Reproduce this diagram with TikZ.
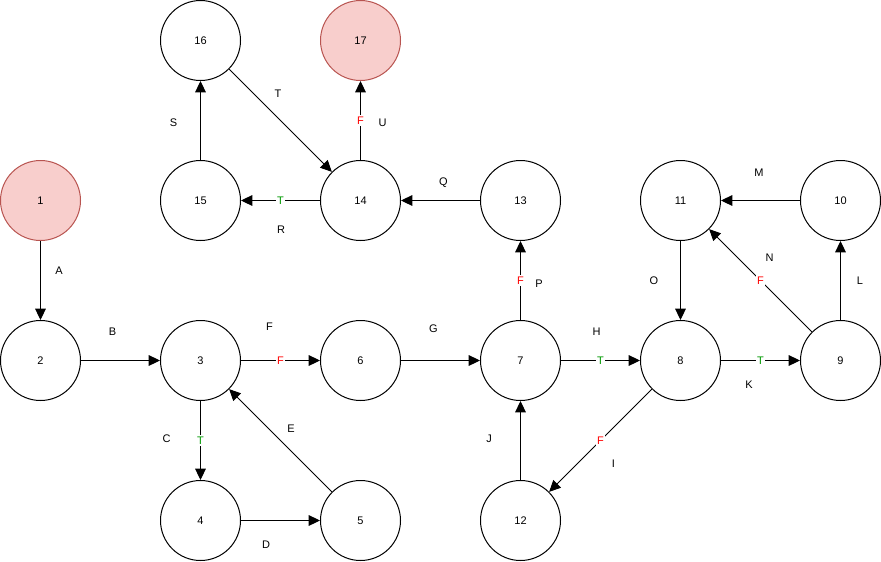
\documentclass[tikz,border=0pt]{standalone}
\usepackage{fontspec}
\setmainfont{Liberation Sans}
\usetikzlibrary{arrows.meta}
\definecolor{pinkfill}{HTML}{F8CECC}
\definecolor{pinkdraw}{HTML}{B85450}
\definecolor{tgreen}{HTML}{009900}
\definecolor{fred}{HTML}{FF0000}
\tikzset{
  state/.style={circle,draw=black,line width=0.75pt,fill=white,minimum size=60pt,inner sep=0pt,font=\fontsize{8.25pt}{10pt}\selectfont},
  endstate/.style={state,fill=pinkfill,draw=pinkdraw},
  edge/.style={line width=0.75pt,-{Triangle[length=8.5pt,width=8pt]}},
  lab/.style={font=\fontsize{8.25pt}{10pt}\selectfont,inner sep=0pt},
  tlab/.style={lab,fill=white,inner sep=1pt,text=tgreen},
  flab/.style={lab,fill=white,inner sep=1pt,text=fred}
}
\begin{document}
\begin{tikzpicture}[x=0.75pt,y=-0.75pt]
\useasboundingbox (0,0) rectangle (881,561);
\node[endstate] (n1) at (40.5,200.5) {1};
\node[state] (n2) at (40.5,360.5) {2};
\node[state] (n3) at (200.5,360.5) {3};
\node[state] (n4) at (200.5,520.5) {4};
\node[state] (n5) at (360.5,520.5) {5};
\node[state] (n6) at (360.5,360.5) {6};
\node[state] (n7) at (520.5,360.5) {7};
\node[state] (n8) at (680.5,360.5) {8};
\node[state] (n9) at (840.5,360.5) {9};
\node[state] (n10) at (840.5,200.5) {10};
\node[state] (n11) at (680.5,200.5) {11};
\node[state] (n12) at (520.5,520.5) {12};
\node[state] (n13) at (520.5,200.5) {13};
\node[state] (n14) at (360.5,200.5) {14};
\node[state] (n15) at (200.5,200.5) {15};
\node[state] (n16) at (200.5,40.5) {16};
\node[endstate] (n17) at (360.5,40.5) {17};

\draw[edge] (n1) -- (n2);
\draw[edge] (n2) -- (n3);
\draw[edge] (n3) -- node[flab] (e36) {F} (n6);
\draw[edge] (n3) -- node[tlab] (e34) {T} (n4);
\draw[edge] (n4) -- (n5);
\draw[edge] (n5) -- (n3);
\draw[edge] (n6) -- (n7);
\draw[edge] (n7) -- node[tlab] (e78) {T} (n8);
\draw[edge] (n8) -- node[tlab] (e89) {T} (n9);
\draw[edge] (n8) -- node[flab] (e812) {F} (n12);
\draw[edge] (n12) -- (n7);
\draw[edge] (n7) -- node[flab] (e713) {F} (n13);
\draw[edge] (n9) -- (n10);
\draw[edge] (n9) -- node[flab] (e911) {F} (n11);
\draw[edge] (n10) -- (n11);
\draw[edge] (n11) -- (n8);
\draw[edge] (n13) -- (n14);
\draw[edge] (n14) -- node[tlab] (e1415) {T} (n15);
\draw[edge] (n15) -- (n16);
\draw[edge] (n16) -- (n14);
\draw[edge] (n14) -- node[flab] (e1417) {F} (n17);

\node[lab] (lA) at (59,270.5) {A};
\node[lab] (lB) at (112.5,331.5) {B};
\node[lab] (lC) at (166.5,438.5) {C};
\node[lab] (lD) at (266,544.5) {D};
\node[lab] (lE) at (291,429) {E};
\node[lab] (lF) at (269.5,327) {F};
\node[lab] (lG) at (433.5,329) {G};
\node[lab] (lH) at (596.5,331.5) {H};
\node[lab] (lI) at (613.5,463.5) {I};
\node[lab] (lJ) at (489,438.5) {J};
\node[lab] (lK) at (749,384.5) {K};
\node[lab] (lL) at (860,281) {L};
\node[lab] (lM) at (759,173) {M};
\node[lab] (lN) at (769.5,257.5) {N};
\node[lab] (lO) at (654,280.5) {O};
\node[lab] (lP) at (539,284) {P};
\node[lab] (lQ) at (443.5,182.5) {Q};
\node[lab] (lR) at (281,229.5) {R};
\node[lab] (lS) at (173.5,123) {S};
\node[lab] (lT) at (278,94) {T};
\node[lab] (lU) at (382.5,123) {U};
\end{tikzpicture}
\end{document}
